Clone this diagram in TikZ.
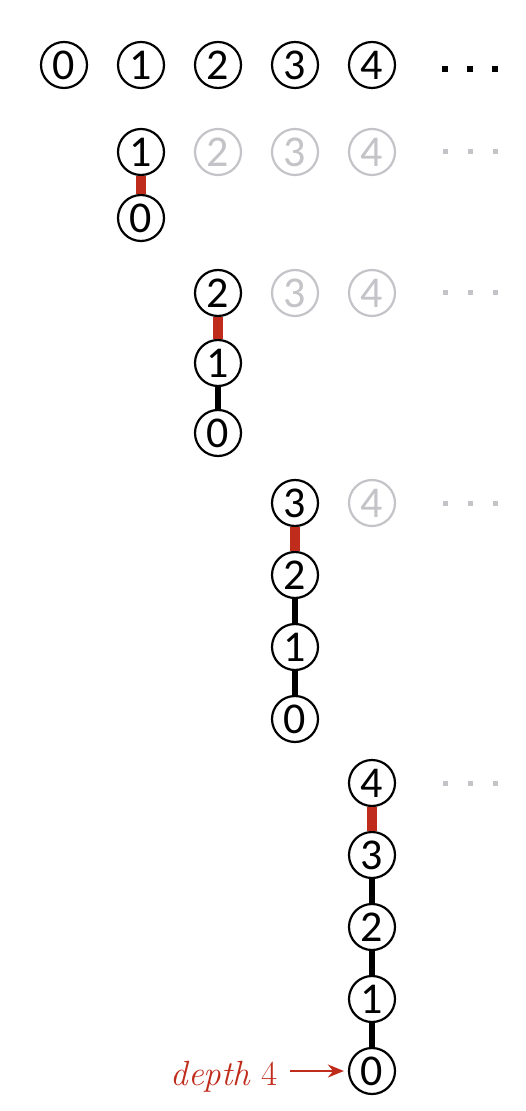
\documentclass[tikz,border=0pt]{standalone}
\usepackage{fontspec}
\newfontfamily\keyfont{Carlito}
\usetikzlibrary{arrows.meta}
\definecolor{edgered}{RGB}{192,44,28}
\definecolor{ghost}{RGB}{195,195,200}
\tikzset{
  vtx/.style={circle,draw,line width=1.1pt,minimum size=23pt,inner sep=0pt,
    font=\keyfont\fontsize{22}{22}\selectfont},
  faded/.style={vtx,draw=ghost,text=ghost},
  link/.style={line width=2.6pt},
  newlink/.style={line width=4.8pt,draw=edgered},
}

\begin{document}
\begin{tikzpicture}[x=0.5pt,y=-0.5pt]
\useasboundingbox (0,0) rectangle (525,1111);

% keys before any link
\foreach \i in {0,...,4}
  \node[vtx] (k\i) at ({64+77*\i},65) {\i};
\foreach \x in {445,470,495}
  \fill (\x-3,66) rectangle (\x+3,72);

% the chain after each new link
\foreach \k/\top/\gap in {1/152/66,2/293/70,3/503/72,4/783/72} {
  \foreach \j in {0,...,\k}
    \node[vtx] (r\k-\j) at ({64+77*\k},{\top+\gap*(\k-\j)}) {\j};
  \pgfmathtruncatemacro\lowkey{\k-1}
  \pgfmathtruncatemacro\nextkey{\k+1}
  \draw[newlink] (r\k-\k) -- (r\k-\lowkey);
  \ifnum\k>1\relax
    \foreach \j in {1,...,\lowkey} {
      \pgfmathtruncatemacro\belowkey{\j-1}
      \draw[link] (r\k-\j) -- (r\k-\belowkey);
    }
  \fi
  \ifnum\k<4\relax
    \foreach \g in {\nextkey,...,4}
      \node[faded] (g\k-\g) at ({64+77*\g},\top) {\g};
  \fi
  \foreach \x in {445,470,495}
    \fill[ghost] (\x-2.5,\top-2.5) rectangle (\x+2.5,\top+2.5);
}

% depth label
\node[anchor=base east,inner sep=0pt,text=edgered,font=\fontsize{17.5}{19}\selectfont]
  (depth) at (278,1085) {\textit{depth} 4};
\draw[edgered,line width=1.3pt,-{Stealth[length=8pt,width=6.5pt]},shorten <=6pt,shorten >=2pt]
  (depth.east |- r4-0) -- (r4-0);

\end{tikzpicture}
\end{document}
